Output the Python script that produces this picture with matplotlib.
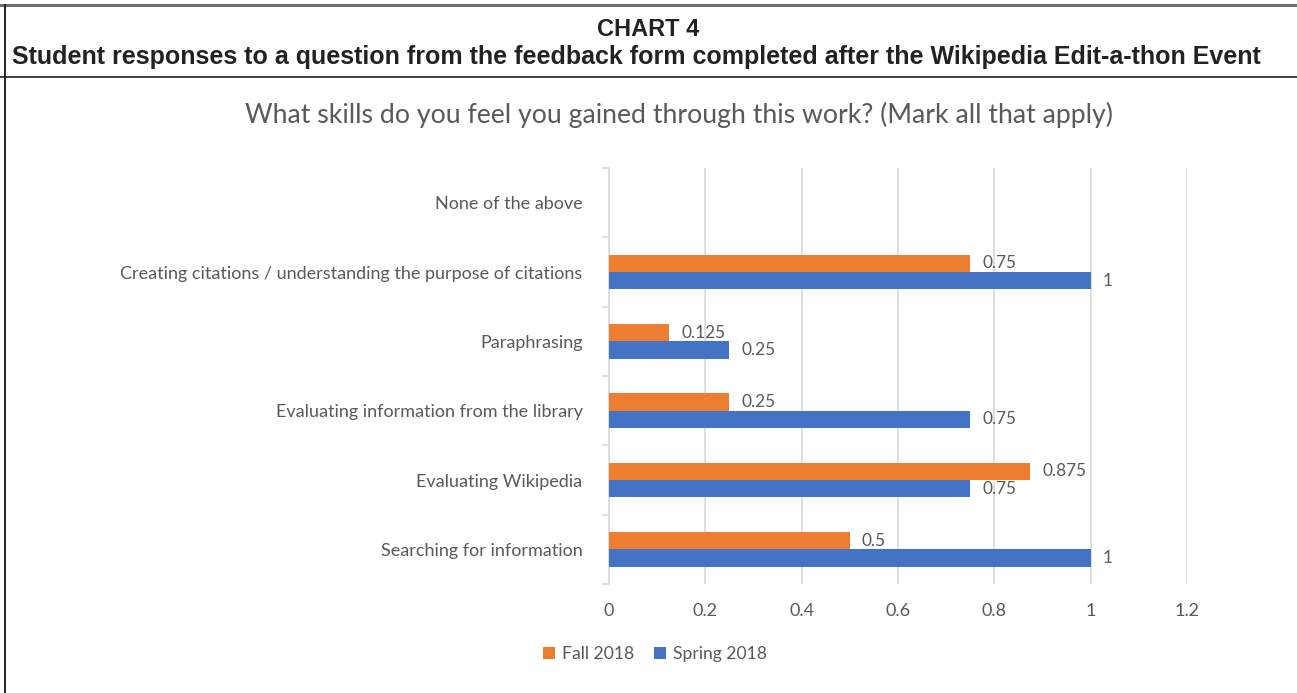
import numpy as np
import matplotlib.pyplot as plt
from matplotlib.lines import Line2D

categories = ['Searching for information', 'Evaluating Wikipedia',
              'Evaluating information from the library', 'Paraphrasing',
              'Creating citations / understanding the purpose of citations',
              'None of the above']
spring_2018 = [1, 0.75, 0.75, 0.25, 1, np.nan]
fall_2018 = [0.5, 0.875, 0.25, 0.125, 0.75, np.nan]
spring_labels = ['1', '0.75', '0.75', '0.25', '1', '']
fall_labels = ['0.5', '0.875', '0.25', '0.125', '0.75', '']
xticks = [0, 0.2, 0.4, 0.6, 0.8, 1, 1.2]

orange = '#ED7D31'
blue = '#4472C4'
grey = '#595959'
font = ['Lato', 'DejaVu Sans']
head = ['Liberation Sans', 'DejaVu Sans']

W, H = 1297, 693
fig = plt.figure(figsize=(W / 100, H / 100), dpi=100)

# header box
fig.add_artist(Line2D([0, 1], [1 - 5 / H, 1 - 5 / H], color='#707070', lw=2.2))
fig.add_artist(Line2D([0, 1], [1 - 77 / H, 1 - 77 / H], color='#333333', lw=1.3))
fig.add_artist(Line2D([5 / W, 5 / W], [0, 1 - 5 / H], color='#222222', lw=1.4))
fig.text(648 / W, 1 - 29 / H, 'CHART 4', ha='center', va='center', fontsize=17,
         fontweight='bold', family=head, color='#222222')
fig.text(636 / W, 1 - 57 / H,
         'Student responses to a question from the feedback form completed after the Wikipedia Edit-a-thon Event',
         ha='center', va='center', fontsize=18, fontweight='bold', family=head, color='#222222')

fig.text(679 / W, 1 - 115 / H,
         'What skills do you feel you gained through this work? (Mark all that apply)',
         ha='center', va='center', fontsize=19.2, family=font, color=grey)

ax = fig.add_axes([609 / W, 1 - 584 / H, (1187 - 609) / W, (584 - 168) / H])
y = np.arange(len(categories))
h = 0.25
ax.barh(y - h / 2, spring_2018, height=h, color=blue, label='Spring 2018', zorder=3)
ax.barh(y + h / 2, fall_2018, height=h, color=orange, label='Fall 2018', zorder=3)

for i in range(len(categories)):
    if spring_labels[i]:
        ax.text(spring_2018[i] + 0.025, y[i] - h / 2, spring_labels[i], va='center', ha='left',
                fontsize=12.4, family=font, color=grey)
    if fall_labels[i]:
        ax.text(fall_2018[i] + 0.025, y[i] + h / 2, fall_labels[i], va='center', ha='left',
                fontsize=12.4, family=font, color=grey)

ax.set_xlim(0, 1.2)
ax.set_ylim(-0.5, len(categories) - 0.5)
ax.set_xticks(xticks)
ax.set_xticklabels(['0', '0.2', '0.4', '0.6', '0.8', '1', '1.2'], family=font, fontsize=13, color=grey)
ax.tick_params(axis='x', length=0, pad=14)
ax.grid(axis='x', color='#D9D9D9', lw=1.2, zorder=0)

ax.set_yticks(y)
ax.set_yticklabels(categories, family=font, fontsize=13, color=grey)
ax.set_yticks(np.arange(-0.5, len(categories), 1), minor=True)
ax.tick_params(axis='y', which='major', length=0, pad=19)
ax.tick_params(axis='y', which='minor', length=5, color='#D9D9D9', width=1.2)

for s in ['top', 'right', 'bottom']:
    ax.spines[s].set_visible(False)
ax.spines['left'].set_color('#D9D9D9')
ax.spines['left'].set_linewidth(1.2)

handles, labels = ax.get_legend_handles_labels()
leg = fig.legend(handles[::-1], labels[::-1], loc='center', bbox_to_anchor=(655 / W, 1 - 654 / H),
                 ncol=2, frameon=False, handlelength=0.7, handleheight=0.7, handletextpad=0.4,
                 columnspacing=1.1, prop={'family': font, 'size': 12.6})
for t in leg.get_texts():
    t.set_color(grey)

fig.savefig('out.png', dpi=100)
